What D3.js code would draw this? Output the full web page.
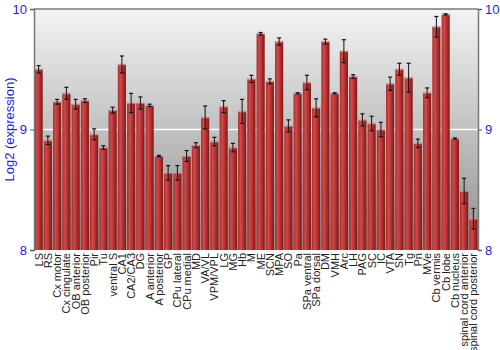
<!DOCTYPE html>
<html>
<head>
<meta charset="utf-8">
<script src="https://cdn.jsdelivr.net/npm/d3@7"></script>
<style>
  body { margin: 0; background: #fff; }
  text { font-family: "Liberation Sans", Arial, sans-serif; }
</style>
</head>
<body>
<div id="chart"></div>
<script>
// tissue names
var regions = ["LS", "RS", "Cx motor", "Cx cingulate", "OB anterior", "OB posterior", "Pir", "Tu",
  "ventral S", "CA1", "CA2/CA3", "DG", "A anterior", "A posterior", "GP", "CPu lateral", "CPu medial",
  "MD", "VA/VL", "VPM/VPL", "LG", "MG", "Hb", "M", "ME", "SCN", "MPA", "SO", "Pa", "SPa ventral",
  "SPa dorsal", "DM", "VMH", "Arc", "LH", "PAG", "SC", "IC", "VTA", "SN", "Tg", "Pn", "MVe",
  "Cb vermis", "Cb lobe", "Cb nucleus", "spinal cord anterior", "spinal cord posterior"];

// mean log2 expression
var means = [9.50, 8.91, 9.23, 9.30, 9.21, 9.24, 8.96, 8.85, 9.16, 9.54, 9.22, 9.22, 9.20, 8.78,
  8.64, 8.64, 8.78, 8.87, 9.10, 8.90, 9.19, 8.85, 9.15, 9.42, 9.795, 9.40, 9.73, 9.03, 9.30, 9.39,
  9.18, 9.73, 9.30, 9.65, 9.44, 9.08, 9.05, 9.00, 9.38, 9.50, 9.43, 8.885, 9.305, 9.853, 9.955,
  8.925, 8.49, 8.26];

// error (+/-)
var errs = [0.03, 0.035, 0.02, 0.05, 0.04, 0.015, 0.045, 0.015, 0.025, 0.07, 0.08, 0.05, 0.01, 0.005,
  0.06, 0.06, 0.045, 0.02, 0.095, 0.035, 0.05, 0.035, 0.1, 0.03, 0.01, 0.02, 0.03, 0.05, 0.005, 0.06,
  0.075, 0.02, 0.005, 0.095, 0.015, 0.05, 0.06, 0.06, 0.055, 0.05, 0.12, 0.035, 0.04, 0.085, 0.005,
  0.005, 0.105, 0.085];

var yTicks = [8, 9, 10];

var W = 500, H = 350;
var margin = {top: 9, right: 22, bottom: 100, left: 34};
var w = W - margin.left - margin.right,
    h = H - margin.top - margin.bottom;

var data = regions.map(function(r, i) { return {name: r, v: means[i], e: errs[i]}; });

var svg = d3.select("#chart").append("svg")
    .attr("width", W).attr("height", H);

var defs = svg.append("defs");
var bg = defs.append("linearGradient").attr("id", "bg")
    .attr("x1", 0).attr("y1", 0).attr("x2", 0).attr("y2", 1);
bg.append("stop").attr("offset", "0%").attr("stop-color", "#f4f4f4");
bg.append("stop").attr("offset", "100%").attr("stop-color", "#8e8e8e");

var barG = defs.append("linearGradient").attr("id", "barg")
    .attr("x1", 0).attr("y1", 0).attr("x2", 1).attr("y2", 0);
barG.append("stop").attr("offset", "0%").attr("stop-color", "#a82a2a");
barG.append("stop").attr("offset", "30%").attr("stop-color", "#cf4a4a");
barG.append("stop").attr("offset", "60%").attr("stop-color", "#b83232");
barG.append("stop").attr("offset", "100%").attr("stop-color", "#7c1616");

var g = svg.append("g").attr("transform", "translate(" + margin.left + "," + margin.top + ")");

var x = d3.scaleBand().domain(regions).range([0, w]).paddingInner(0.12).paddingOuter(0.06);
var y = d3.scaleLinear().domain([8, 10]).range([h, 0]);

g.append("rect").attr("width", w).attr("height", h).attr("fill", "url(#bg)");

// gridline at 9
g.append("line").attr("x1", 0).attr("x2", w)
    .attr("y1", y(9)).attr("y2", y(9))
    .attr("stroke", "#fff").attr("stroke-width", 1.5);

// bars
g.selectAll(".bar").data(data).enter().append("rect")
    .attr("class", "bar")
    .attr("x", function(d) { return x(d.name); })
    .attr("y", function(d) { return y(d.v); })
    .attr("width", x.bandwidth())
    .attr("height", function(d) { return h - y(d.v); })
    .attr("fill", "url(#barg)");

// light cap on bar top
g.selectAll(".cap").data(data).enter().append("rect")
    .attr("x", function(d) { return x(d.name) - 0.5; })
    .attr("y", function(d) { return y(d.v) - 1; })
    .attr("width", x.bandwidth() + 1)
    .attr("height", 2)
    .attr("fill", "#e8a0a0").attr("opacity", 0.6);

// error bars
var eb = g.selectAll(".err").data(data).enter().append("g")
    .attr("transform", function(d) { return "translate(" + (x(d.name) + x.bandwidth() / 2) + ",0)"; });
eb.append("line")
    .attr("y1", function(d) { return y(d.v + d.e); })
    .attr("y2", function(d) { return y(d.v - d.e); })
    .attr("stroke", "#111").attr("stroke-width", 1);
eb.append("line").attr("x1", -2).attr("x2", 2)
    .attr("y1", function(d) { return y(d.v + d.e); })
    .attr("y2", function(d) { return y(d.v + d.e); })
    .attr("stroke", "#111").attr("stroke-width", 1.2);
eb.append("line").attr("x1", -2).attr("x2", 2)
    .attr("y1", function(d) { return y(d.v - d.e); })
    .attr("y2", function(d) { return y(d.v - d.e); })
    .attr("stroke", "#111").attr("stroke-width", 1.2);

// frame top
g.append("line").attr("x1", 0).attr("x2", w).attr("y1", 0).attr("y2", 0)
    .attr("stroke", "#777").attr("stroke-width", 1.5);

// axes
var yl = g.append("g").call(d3.axisLeft(y).tickValues(yTicks).tickSize(4).tickFormat(d3.format("d")));
var yr = g.append("g").attr("transform", "translate(" + w + ",0)")
    .call(d3.axisRight(y).tickValues(yTicks).tickSize(4).tickFormat(d3.format("d")));
[yl, yr].forEach(function(a) {
  a.select(".domain").attr("stroke", "#777").attr("stroke-width", 1.5);
  a.selectAll(".tick line").attr("stroke", "#555");
  a.selectAll(".tick text").attr("fill", "#1a1aff").style("font-size", "13px")
    .style("font-family", "'Liberation Sans', Arial, sans-serif");
});

// x labels
g.append("g").selectAll("text").data(regions).enter().append("text")
    .attr("transform", function(d) {
      return "translate(" + (x(d) + x.bandwidth() / 2 + 4) + "," + (h + 3) + ") rotate(-90)";
    })
    .attr("text-anchor", "end")
    .attr("fill", "#222")
    .style("font-size", "11px")
    .text(function(d) { return d; });

// y label
svg.append("text")
    .attr("transform", "translate(14," + (margin.top + h / 2) + ") rotate(-90)")
    .attr("text-anchor", "middle")
    .attr("fill", "#1a1aff")
    .style("font-size", "13px")
    .text("Log2 (expression)");
</script>
</body>
</html>
